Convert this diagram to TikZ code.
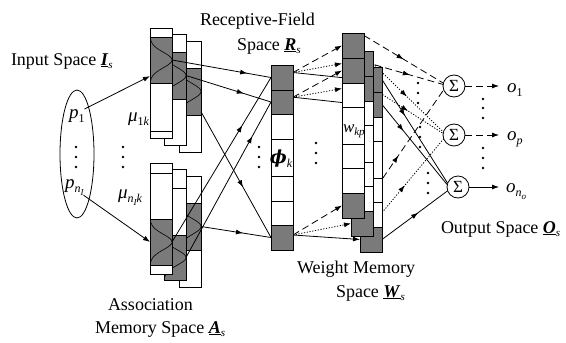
\documentclass[tikz,border=0pt]{standalone}
\usepackage{fontspec}
\setmainfont{Liberation Serif}
\newfontfamily\dvs{DejaVu Serif}
\usetikzlibrary{shapes.geometric,arrows.meta,decorations.markings,calc}
\pgfdeclarelayer{bg}
\pgfsetlayers{bg,main}
\newcommand\lowsub[1]{\raisebox{-0.22em}{\fontsize{12}{12}\selectfont #1}}
\newcommand\tinysub[1]{\raisebox{-0.25em}{\fontsize{9}{9}\selectfont #1}}
\newcommand\uvecx[2]{\underline{\textbf{\textit{#1}}}\raisebox{-0.2em}{\fontsize{11}{11}\selectfont\itshape #2}}
\newcommand\gbell[4]{\draw[line width=0.6pt] plot[domain=#3:#4,samples=41,smooth] ({#1+(#2-#1)*exp(-((\x-(#3+#4)/2)*(\x-(#3+#4)/2))/(((#4-#3)/4.2)*((#4-#3)/4.2)))},\x);}
\newcommand\wmcol[3]{%
 \node[cellb,shd,minimum height=25pt] (#1a) at (#2,#3) {};
 \node[cellb,shd,minimum height=25pt] (#1b) at (#2,#3+25) {};
 \node[cellb,minimum height=24pt] (#1c) at (#2,#3+50) {};
 \node[cellb,minimum height=37pt] (#1d) at (#2,#3+74) {};
 \node[cellb,minimum height=24pt] (#1e) at (#2,#3+111) {};
 \node[cellb,minimum height=25pt] (#1f) at (#2,#3+135) {};
 \node[cellb,shd,minimum height=25pt] (#1g) at (#2,#3+160) {};}
\begin{document}
\begin{tikzpicture}[x=1pt,y=-1pt,
  every node/.style={inner sep=0pt,outer sep=0pt},
  lw/.style={line width=0.8pt},
  cellb/.style={draw, line width=0.9pt, fill=white, anchor=north west, minimum width=22pt, inner sep=0pt, outer sep=0pt},
  shd/.style={fill=black!52},
  lbl/.style={font=\fontsize{18}{20}\selectfont, anchor=base west},
  mlbl/.style={font=\fontsize{19}{20}\selectfont\itshape, anchor=base west},
  atip/.tip={Latex[length=7pt,width=5pt]},
  marr/.style={postaction={decorate},decoration={markings,mark=at position #1 with {\arrow{atip}}}},
  dsh/.style={dash pattern=on 7pt off 4pt},
  dtt/.style={dash pattern=on 1.2pt off 1.6pt},
  sumnode/.style={circle, draw, line width=0.8pt, fill=white, minimum size=22pt, font=\fontsize{17}{17}\selectfont}
]
\useasboundingbox (0,0) rectangle (566,343);

% ---------- input space
\node[ellipse, draw, lw, minimum width=34pt, minimum height=128pt] (inp) at (77,154) {};
\node[mlbl] (p1) at (69,118) {p\lowsub{\upshape 1}};
\node[mlbl] (pn) at (65,188) {p\lowsub{n\tinysub{I}}};
\foreach \y in {147,157,167} \fill (76,\y) circle (1.3);
\node[lbl] (tin) at (11,65) {Input Space \uvecx{I}{s}};

% ---------- association memory (upper)
\node[cellb, minimum height=111pt] (ua3) at (179,41) {};
\node[cellb, shd, minimum height=47pt] (ua3s) at (179,68) {};
\gbell{179}{201}{68}{115}
\node[cellb, minimum height=111pt] (ua2) at (164,34) {};
\node[cellb, shd, minimum height=47pt] (ua2s) at (164,52) {};
\gbell{164}{186}{52}{99}
\node[cellb, minimum height=110pt] (ua1) at (150,28) {};
\node[cellb, shd, minimum height=46pt] (ua1s) at (150,37) {};
\draw[line width=0.9pt] (150,131) -- (172,131);
\gbell{150}{172}{37}{83}

% ---------- association memory (lower)
\node[cellb, minimum height=111pt] (la3) at (179,176) {};
\node[cellb, shd, minimum height=47pt] (la3s) at (179,203) {};
\gbell{179}{201}{203}{250}
\node[cellb, minimum height=111pt] (la2) at (164,169) {};
\draw[line width=0.9pt] (164,188) -- (186,188);
\node[cellb, shd, minimum height=45pt] (la2s) at (164,235) {};
\gbell{164}{186}{235}{280}
\node[cellb, minimum height=111pt] (la1) at (150,163) {};
\draw[line width=0.9pt] (150,173) -- (172,173);
\node[cellb, shd, minimum height=46pt] (la1s) at (150,219) {};
\gbell{150}{172}{219}{265}

\node[mlbl] (mu1) at (128,121) {μ\lowsub{\upshape 1\itshape k}};
\node[mlbl] (mun) at (118,198) {μ\lowsub{n\tinysub{I}k}};
\foreach \y in {147,157,167} \fill (123,\y) circle (1.3);
\node[lbl] (tas1) at (108,310) {Association};
\node[lbl] (tas2) at (95,333) {Memory Space \uvecx{A}{s}};

\draw[lw,-atip] (p1.north east) -- ($(ua1s.north west)!0.85!(ua1s.south west)$);
\draw[lw,-atip] (pn.south east) -- (la1s.west);

% ---------- receptive field
\node[cellb,shd,minimum height=25pt] (rf1) at (271,65) {};
\node[cellb,shd,minimum height=24pt] (rf2) at (271,90) {};
\node[cellb,minimum height=25pt] (rf3) at (271,114) {};
\node[cellb,minimum height=37pt] (rf4) at (271,139) {};
\node[cellb,minimum height=25pt] (rf5) at (271,176) {};
\node[cellb,minimum height=24pt] (rf6) at (271,201) {};
\node[cellb,shd,minimum height=25pt] (rf7) at (271,225) {};
\node[font=\fontsize{18}{20}\selectfont] (phik) at ($(rf4.center)+(-1,1)$) {{\dvs\bfseries\itshape ϕ}\lowsub{\itshape k}};
\foreach \y in {147,157,167} \fill (259,\y) circle (1.3);
\foreach \y in {143,153,163} \fill (316,\y) circle (1.3);
\node[lbl] (trf1) at (200,25) {Receptive-Field};
\node[lbl] (trf2) at (237,50) {Space \uvecx{R}{s}};

% association -> receptive field
\draw[lw,marr=0.76] (ua1s.east) -- (rf1.west);
\draw[lw,marr=0.68] (ua2s.east) -- (rf2.west);
\draw[lw,marr=0.6] ($(ua3s.north east)!0.93!(ua3s.south east)$) -- (rf7.west);
\draw[lw,marr=0.71] (la1s.east) -- (rf1.west);
\draw[lw,marr=0.78] (la2s.east) -- (rf2.west);
\draw[lw,marr=0.6] (la3s.east) -- (rf7.west);

% ---------- weight memory
\wmcol{w3}{360}{67}
\wmcol{w2}{351}{51}
\wmcol{w1}{342}{33}
\node[font=\fontsize{17}{18}\selectfont\itshape, anchor=base west] (wkp) at (343,132) {w\raisebox{-0.2em}{\fontsize{11}{11}\selectfont kp}};
\node[lbl] (twm1) at (297,273) {Weight Memory};
\node[lbl] (twm2) at (336,297) {Space \uvecx{W}{s}};

% ---------- output
\node[sumnode] (s1) at (454,86) {Σ};
\node[sumnode] (s2) at (454,135) {Σ};
\node[sumnode] (s3) at (458,187) {Σ};
\node[mlbl] (o1) at (507,92) {o\lowsub{\upshape 1}};
\node[mlbl] (op) at (507,140) {o\lowsub{p}};
\node[mlbl] (on) at (506,192) {o\lowsub{n\tinysub{o}}};
\draw[lw,dsh,-atip,shorten >=8pt] (s1) -- (s1 -| o1.west);
\draw[lw,dsh,-atip,shorten >=8pt] (s2) -- (s2 -| op.west);
\draw[lw,-atip,shorten >=7pt] (s3) -- (s3 -| on.west);
\foreach \y in {99,108,118,148,158,168} \fill (483,\y) circle (1.3);
\foreach \y in {83,93,103} \fill (418,\y) circle (1.3);
\foreach \y in {127,137,147} \fill (420,\y) circle (1.3);
\foreach \y in {173,183,193} \fill (428,\y) circle (1.3);
\node[lbl] (tout) at (441,233) {Output Space \uvecx{O}{s}};

\begin{pgfonlayer}{bg}
\coordinate (r1o) at ($(rf1.north east)!0.3!(rf1.south east)$);
\coordinate (r2o) at ($(rf2.north east)!0.3!(rf2.south east)$);
\coordinate (r7o) at ($(rf7.north east)!0.4!(rf7.south east)$);
\draw[lw,dsh,-atip] (r1o) -- (w1a.west);
\draw[lw,dtt,-atip] (r1o) -- (w2a.west -| w1a.west);
\draw[lw,-atip] (r1o) -- (w3a.west);
\draw[lw,dsh,-atip] (r2o) -- (w1b.west);
\draw[lw,dtt,-atip] (r2o) -- (w2b.west -| w1b.west);
\draw[lw,-atip] (r2o) -- (w3b.west);
\draw[lw,dsh,-atip] (r7o) -- (w1g.west);
\draw[lw,dtt,-atip] (r7o) -- (w2g.west);
\draw[lw,-atip] (r7o) -- (w3g.west);
% weight memory -> sums
\draw[lw,dsh,marr=0.5] ($(w1a.north east)!0.1!(w1a.south east)$) -- (s1.165);
\draw[lw,dsh,marr=0.58] ($(w1b.north east)!0.15!(w1b.south east)$) -- (s1.172);
\draw[lw,dsh,marr=0.43] (w1g.east) -- (s1.200);
\draw[lw,dtt,marr=0.48] (w2a.east) -- (s2.165);
\draw[lw,dtt,marr=0.5] (w2b.east) -- (s2.172);
\draw[lw,dtt,marr=0.45] (w2g.east) -- (s2.200);
\draw[lw,marr=0.35] (w3a.east) -- (s3.160);
\draw[lw,marr=0.33] (w3b.east) -- (s3.168);
\draw[lw,marr=0.55] (w3g.east) -- (s3.200);
\end{pgfonlayer}
\end{tikzpicture}
\end{document}
